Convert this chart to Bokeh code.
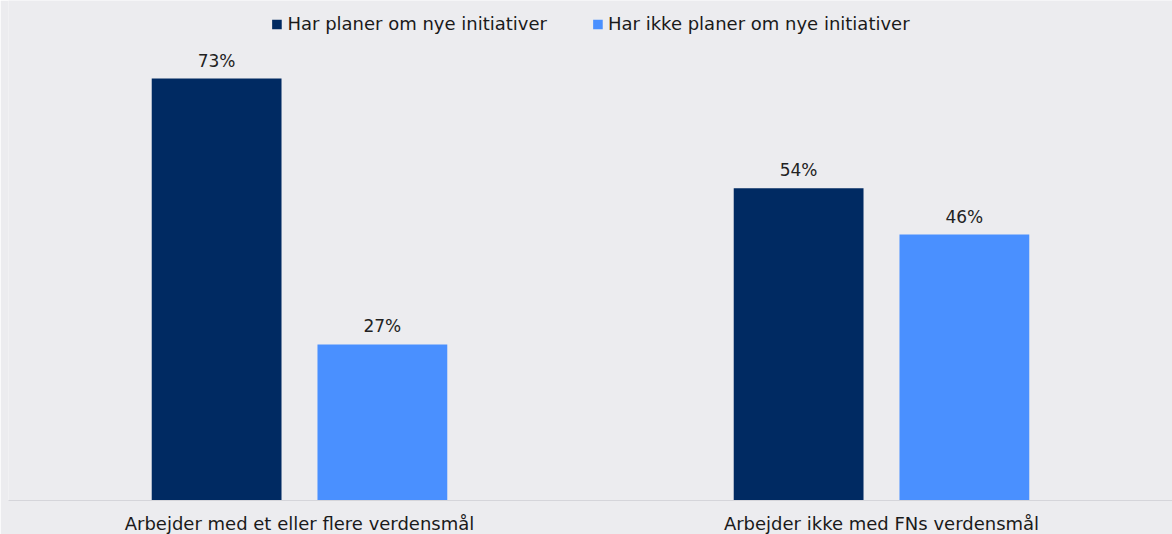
from bokeh.plotting import figure
from bokeh.models import ColumnDataSource, FactorRange, Range1d, Legend, LegendItem
from bokeh.transform import dodge
from bokeh.core.properties import value
from bokeh.embed import file_html
from bokeh.resources import INLINE

categories = ["Arbejder med et eller flere verdensmål", "Arbejder ikke med FNs verdensmål"]
series_names = ["Har planer om nye initiativer", "Har ikke planer om nye initiativer"]
har_planer = [73, 54]
har_ikke_planer = [27, 46]
colors = ["#002A62", "#4A90FF"]

BG = "#ECECEF"
FONT = "DejaVu Sans"

src = ColumnDataSource(dict(
    cat=categories,
    a=har_planer,
    b=har_ikke_planer,
    a_lbl=[f"{v}%" for v in har_planer],
    b_lbl=[f"{v}%" for v in har_ikke_planer],
))

p = figure(
    x_range=FactorRange(*categories, range_padding=0),
    y_range=Range1d(0, 86.5),
    frame_width=1164, frame_height=500,
    output_backend="svg", toolbar_location=None,
    min_border_left=8, min_border_right=0, min_border_top=0, min_border_bottom=34,
    background_fill_color=BG, border_fill_color=BG,
    outline_line_color=None,
)

off = 0.1424
bw = 0.223
r1 = p.vbar(x=dodge("cat", -off, range=p.x_range), top="a", width=bw, source=src,
            fill_color=colors[0], line_color=None)
r2 = p.vbar(x=dodge("cat", off, range=p.x_range), top="b", width=bw, source=src,
            fill_color=colors[1], line_color=None)

for col, lbl, dx in (("a", "a_lbl", -off), ("b", "b_lbl", off)):
    p.text(x=dodge("cat", dx, range=p.x_range), y=col, text=lbl, source=src,
           text_align="center", text_baseline="bottom", y_offset=-8,
           text_font=value(FONT), text_font_size="17px", text_color="#222222")

legend = Legend(items=[LegendItem(label=series_names[0], renderers=[r1]),
                       LegendItem(label=series_names[1], renderers=[r2])],
                location="top_center", orientation="horizontal",
                background_fill_alpha=0, border_line_color=None,
                padding=0, margin=13, spacing=44,
                glyph_width=12, glyph_height=12, label_standoff=5,
                label_text_font=FONT, label_text_font_size="18px",
                label_text_color="#1A1A1A")
p.add_layout(legend)

p.yaxis.visible = False
p.xgrid.grid_line_color = None
p.ygrid.grid_line_color = None
p.xaxis.axis_line_color = "#D5D5DA"
p.xaxis.axis_line_width = 1
p.xaxis.major_tick_line_color = None
p.xaxis.minor_tick_line_color = None
p.xaxis.major_tick_out = 0
p.xaxis.major_tick_in = 0
p.xaxis.axis_label_standoff = 0
p.xaxis.major_label_standoff = 12
p.xaxis.major_label_text_font = FONT
p.xaxis.major_label_text_font_size = "18px"
p.xaxis.major_label_text_color = "#1A1A1A"
p.xaxis.group_text_font_size = "0px"

open("out.html", "w").write(file_html(p, INLINE))
